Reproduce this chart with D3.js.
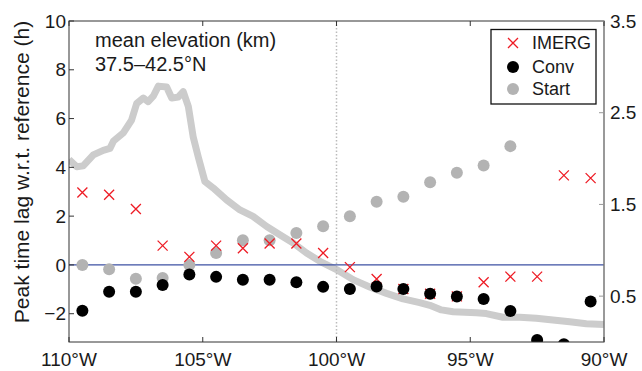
<!DOCTYPE html>
<html>
<head>
<meta charset="utf-8">
<script src="https://cdn.jsdelivr.net/npm/d3@7"></script>
<style>
  body { margin: 0; background: #fff; }
  svg { font-family: "Liberation Sans", Arial, sans-serif; }
</style>
</head>
<body>
<div id="vis"></div>
<script>
// longitudes of the 1-degree bins (negative = west)
const lons = [-109.5, -108.5, -107.5, -106.5, -105.5, -104.5, -103.5, -102.5, -101.5, -100.5,
              -99.5, -98.5, -97.5, -96.5, -95.5, -94.5, -93.5, -92.5, -91.5, -90.5];
const imerg = [2.97, 2.88, 2.29, 0.79, 0.33, 0.79, 0.68, 0.88, 0.88, 0.49,
               -0.09, -0.58, -0.99, -1.18, -1.29, -0.71, -0.48, -0.48, 3.67, 3.56];
const conv = [-1.88, -1.10, -1.10, -0.82, -0.39, -0.49, -0.61, -0.61, -0.71, -0.90,
              -0.99, -0.88, -0.99, -1.18, -1.29, -1.40, -1.89, -3.08, -3.25, -1.50];
const start = [0.0, -0.18, -0.57, -0.54, 0.0, 0.49, 1.01, 1.01, 1.31, 1.59,
               2.0, 2.59, 2.79, 3.39, 3.78, 4.08, 4.87, null, null, null];

// mean elevation profile (km)
const elevLon = [-110.0, -109.71, -109.47, -109.09, -108.72, -108.47, -108.34, -107.97, -107.66, -107.47,
                 -107.22, -107.04, -106.85, -106.66, -106.35, -106.16, -105.92, -105.73, -105.54, -105.36,
                 -105.17, -104.92, -104.61, -104.11, -103.61, -103.12, -102.61, -102.12, -101.62, -101.12,
                 -100.62, -100.0, -99.38, -98.76, -98.13, -97.51, -96.89, -96.51, -96.08, -95.64,
                 -94.77, -94.40, -93.78, -93.15, -92.53, -91.91, -91.28, -90.66, -90.0];
const elevKm = [1.99, 1.91, 1.92, 2.04, 2.09, 2.11, 2.19, 2.28, 2.42, 2.60,
                2.66, 2.62, 2.68, 2.79, 2.78, 2.66, 2.67, 2.73, 2.57, 2.24,
                2.02, 1.75, 1.68, 1.55, 1.44, 1.37, 1.26, 1.17, 1.08, 0.97,
                0.88, 0.79, 0.68, 0.60, 0.53, 0.47, 0.43, 0.40, 0.35, 0.33,
                0.32, 0.31, 0.27, 0.27, 0.26, 0.24, 0.22, 0.20, 0.19];

const xTicks = [-110, -105, -100, -95, -90];
const yTicks = [-2, 0, 2, 4, 6, 8, 10];
const y2Ticks = [0.5, 1.5, 2.5, 3.5];
const legendNames = ["IMERG", "Conv", "Start"];

const WIDTH = 642, HEIGHT = 371;
const MARGINS = { left: 69, right: 38, top: 21, bottom: 29 };
const VIS_W = WIDTH - MARGINS.left - MARGINS.right;
const VIS_H = HEIGHT - MARGINS.top - MARGINS.bottom;

const svg = d3.select("#vis").append("svg")
    .attr("width", WIDTH)
    .attr("height", HEIGHT);

const X = d3.scaleLinear().domain([-110, -90]).range([MARGINS.left, MARGINS.left + VIS_W]);
const Y = d3.scaleLinear().domain([-3.16, 10]).range([MARGINS.top + VIS_H, MARGINS.top]);
const Y2 = d3.scaleLinear().domain([0, 3.5]).range([MARGINS.top + VIS_H, MARGINS.top]);

svg.append("clipPath").attr("id", "clip")
  .append("rect")
    .attr("x", MARGINS.left).attr("y", MARGINS.top)
    .attr("width", VIS_W).attr("height", VIS_H);

const plot = svg.append("g").attr("clip-path", "url(#clip)");

// elevation profile
plot.append("path")
    .datum(elevLon.map((d, i) => [d, elevKm[i]]))
    .attr("fill", "none")
    .attr("stroke", "#cccccc")
    .attr("stroke-width", 7)
    .attr("stroke-linejoin", "round")
    .attr("d", d3.line().x(d => X(d[0])).y(d => Y2(d[1])));

// zero line and 100W marker
plot.append("line")
    .attr("x1", X(-110)).attr("x2", X(-90))
    .attr("y1", Y(0)).attr("y2", Y(0))
    .attr("stroke", "#3d51a3").attr("stroke-width", 1.3);
plot.append("line")
    .attr("x1", X(-100)).attr("x2", X(-100))
    .attr("y1", MARGINS.top).attr("y2", MARGINS.top + VIS_H)
    .attr("stroke", "#bbbbbb").attr("stroke-width", 1.5)
    .attr("stroke-dasharray", "1.5,2");

// Start (grey dots)
plot.selectAll(".start")
    .data(lons.map((d, i) => [d, start[i]]).filter(d => d[1] !== null))
    .enter().append("circle")
    .attr("cx", d => X(d[0])).attr("cy", d => Y(d[1]))
    .attr("r", 6).attr("fill", "#b3b3b3");

// IMERG (red crosses)
const cross = (s) => `M${-s},${-s}L${s},${s}M${-s},${s}L${s},${-s}`;
plot.selectAll(".imerg")
    .data(lons.map((d, i) => [d, imerg[i]]))
    .enter().append("path")
    .attr("transform", d => `translate(${X(d[0])},${Y(d[1])})`)
    .attr("d", cross(5))
    .attr("stroke", "#ee1c25").attr("stroke-width", 1.3).attr("fill", "none");

// Conv (black dots)
plot.selectAll(".conv")
    .data(lons.map((d, i) => [d, conv[i]]))
    .enter().append("circle")
    .attr("cx", d => X(d[0])).attr("cy", d => Y(d[1]))
    .attr("r", 6).attr("fill", "#000");

// axes
const tickLen = 5;
const axisG = svg.append("g").attr("font-size", 19).attr("fill", "#1a1a1a");

// box
axisG.append("rect")
    .attr("x", MARGINS.left).attr("y", MARGINS.top)
    .attr("width", VIS_W).attr("height", VIS_H)
    .attr("fill", "none").attr("stroke", "#333").attr("stroke-width", 1);
axisG.append("line")
    .attr("x1", X(-90)).attr("x2", X(-90))
    .attr("y1", MARGINS.top).attr("y2", MARGINS.top + VIS_H)
    .attr("stroke", "#999").attr("stroke-width", 1);

// x ticks (inward, top and bottom)
xTicks.forEach(t => {
  axisG.append("line")
    .attr("x1", X(t)).attr("x2", X(t))
    .attr("y1", MARGINS.top + VIS_H).attr("y2", MARGINS.top + VIS_H - tickLen)
    .attr("stroke", "#333");
  axisG.append("line")
    .attr("x1", X(t)).attr("x2", X(t))
    .attr("y1", MARGINS.top).attr("y2", MARGINS.top + tickLen)
    .attr("stroke", "#333");
  axisG.append("text")
    .attr("x", X(t)).attr("y", 366)
    .attr("text-anchor", "middle")
    .text(`${-t}°W`);
});

// left ticks
const fmt = d3.format("");
yTicks.forEach(t => {
  axisG.append("line")
    .attr("x1", MARGINS.left).attr("x2", MARGINS.left + tickLen)
    .attr("y1", Y(t)).attr("y2", Y(t))
    .attr("stroke", "#333");
  axisG.append("text")
    .attr("x", MARGINS.left - 3).attr("y", Y(t))
    .attr("dy", "0.35em")
    .attr("text-anchor", "end")
    .text(fmt(t));
});

// right ticks
y2Ticks.forEach(t => {
  axisG.append("line")
    .attr("x1", X(-90)).attr("x2", X(-90) - tickLen)
    .attr("y1", Y2(t)).attr("y2", Y2(t))
    .attr("stroke", "#999");
  axisG.append("text")
    .attr("x", X(-90) + 6).attr("y", Y2(t))
    .attr("dy", "0.35em")
    .text(t.toFixed(1));
});

// y label
svg.append("text")
    .attr("transform", `translate(29,172) rotate(-90)`)
    .attr("text-anchor", "middle")
    .attr("font-size", 21)
    .attr("fill", "#1a1a1a")
    .text("Peak time lag w.r.t. reference (h)");

// annotation
svg.append("text").attr("x", 95).attr("y", 47)
    .attr("font-size", 20).attr("fill", "#1a1a1a")
    .text("mean elevation (km)");
svg.append("text").attr("x", 95).attr("y", 71)
    .attr("font-size", 20).attr("fill", "#1a1a1a")
    .text("37.5–42.5°N");

// legend
const leg = svg.append("g");
leg.append("rect")
    .attr("x", 491).attr("y", 29.5).attr("width", 105).attr("height", 74.5)
    .attr("fill", "#fff").attr("stroke", "#111").attr("stroke-width", 1.3);
const legY = [43, 67, 89];
legendNames.forEach((name, i) => {
  if (i === 0) {
    leg.append("path")
      .attr("transform", `translate(513,${legY[i]})`)
      .attr("d", cross(5))
      .attr("stroke", "#ee1c25").attr("stroke-width", 1.3);
  } else {
    leg.append("circle")
      .attr("cx", 513).attr("cy", legY[i]).attr("r", 6)
      .attr("fill", i === 1 ? "#000" : "#b3b3b3");
  }
  leg.append("text")
    .attr("x", 532).attr("y", legY[i]).attr("dy", "0.36em")
    .attr("font-size", 18).attr("fill", "#1a1a1a")
    .text(name);
});
</script>
</body>
</html>
